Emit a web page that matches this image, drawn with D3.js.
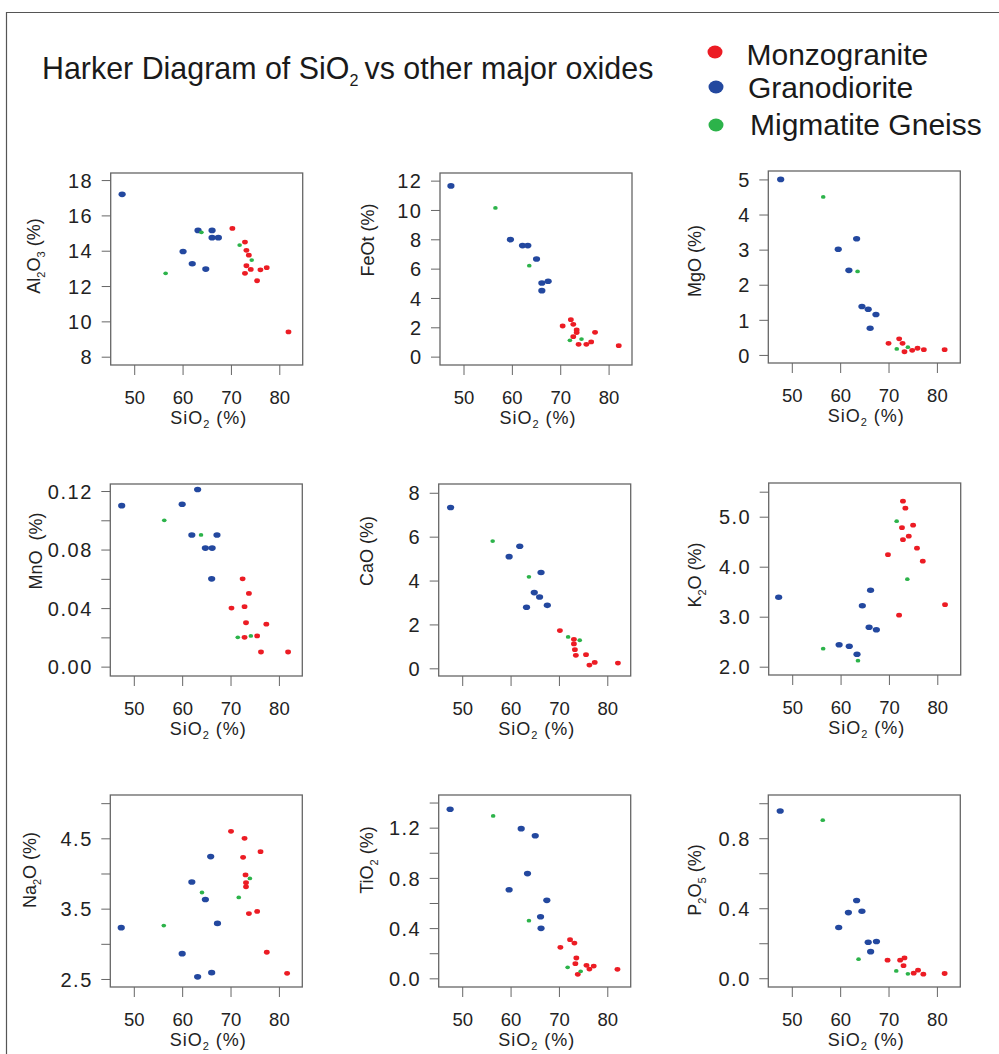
<!DOCTYPE html>
<html><head><meta charset="utf-8">
<script src="https://cdn.jsdelivr.net/npm/d3@7"></script>
<style>
html,body{margin:0;padding:0;background:#fff;}
svg{display:block;font-family:"Liberation Sans",Arial,Helvetica,sans-serif;}
</style>
</head><body>
<svg id="chart" width="999" height="1054"></svg>
<script>
// ---------- DATA (SiO2 %, oxide %) ----------
const groups = ["Monzogranite", "Granodiorite", "Migmatite Gneiss"];
const groupColors = ["#ec1c24", "#23489f", "#2cb34a"];
const xTicks = [50, 60, 70, 80];

const al2o3Monzo = [[70.3,15.26],[72.9,14.49],[73.2,14.02],[73.7,13.75],[73.2,13.15],[74.1,12.94],[72.9,12.72],[76.1,12.92],[77.4,13.04],[75.4,12.30],[81.9,9.40]];
const al2o3Grano = [[47.5,17.19],[60.1,13.96],[62.0,13.26],[63.2,15.15],[64.8,12.96],[66.1,15.15],[66.1,14.74],[67.4,14.74]];
const al2o3Migma = [[56.5,12.72],[63.9,15.04],[71.8,14.32],[74.3,13.47]];

const feotMonzo = [[70.5,2.09],[72.2,2.52],[72.7,2.20],[73.4,1.82],[73.4,1.64],[72.7,1.36],[73.8,0.84],[75.4,0.84],[76.4,1.00],[77.2,1.66],[82.1,0.75]];
const feotGrano = [[47.4,11.64],[59.7,7.98],[62.2,7.57],[63.3,7.57],[65.1,6.66],[66.2,5.02],[66.2,4.50],[67.5,5.14]];
const feotMigma = [[56.6,10.14],[63.6,6.20],[72.0,1.11],[74.4,1.20]];

const mgoMonzo = [[70.0,0.33],[72.2,0.46],[72.9,0.33],[73.3,0.09],[74.9,0.13],[76.0,0.19],[77.3,0.15],[81.6,0.15]];
const mgoGrano = [[47.7,5.00],[59.6,3.01],[61.8,2.41],[63.4,3.31],[64.5,1.38],[65.8,1.30],[67.4,1.15],[66.2,0.76]];
const mgoMigma = [[56.5,4.50],[63.6,2.38],[71.7,0.17],[74.0,0.22]];

const mnoMonzo = [[72.5,0.060],[73.8,0.050],[70.2,0.040],[72.9,0.041],[73.2,0.030],[77.4,0.029],[72.9,0.020],[75.5,0.021],[76.3,0.010],[81.9,0.010]];
const mnoGrano = [[47.5,0.110],[60.0,0.111],[63.2,0.121],[62.0,0.090],[67.2,0.090],[64.8,0.081],[66.2,0.081],[66.1,0.060]];
const mnoMigma = [[56.3,0.100],[63.9,0.090],[71.5,0.020],[74.2,0.021]];

const caoMonzo = [[70.2,1.72],[73.1,1.32],[73.1,1.11],[73.3,0.85],[73.5,0.59],[75.6,0.62],[76.3,0.15],[77.4,0.27],[82.2,0.24]];
const caoGrano = [[47.6,7.33],[59.7,5.09],[61.9,5.56],[66.3,4.37],[64.9,3.45],[66.0,3.25],[63.3,2.78],[67.6,2.87]];
const caoMigma = [[56.3,5.80],[63.8,4.17],[71.9,1.43],[74.3,1.28]];

const k2oMonzo = [[72.9,5.31],[73.4,5.17],[75.0,4.83],[72.7,4.78],[74.1,4.61],[72.9,4.54],[75.8,4.37],[69.8,4.24],[77.0,4.11],[72.1,3.03],[81.6,3.24]];
const k2oGrano = [[47.2,3.39],[66.2,3.53],[64.5,3.22],[65.9,2.79],[67.4,2.74],[59.7,2.44],[61.8,2.41],[63.4,2.25]];
const k2oMigma = [[56.4,2.36],[63.6,2.12],[71.6,4.91],[73.8,3.75]];

const na2oMonzo = [[70.1,4.60],[72.9,4.50],[76.2,4.31],[72.6,4.23],[73.1,3.98],[73.2,3.87],[73.2,3.81],[73.8,3.43],[75.5,3.46],[77.5,2.88],[81.7,2.58]];
const na2oGrano = [[47.4,3.23],[65.9,4.24],[62.0,3.88],[64.8,3.63],[67.3,3.29],[60.0,2.86],[63.2,2.53],[66.1,2.59]];
const na2oMigma = [[56.2,3.26],[64.1,3.73],[71.7,3.66],[74.0,3.93]];

const tio2Monzo = [[72.3,0.308],[73.2,0.281],[70.3,0.247],[73.6,0.162],[73.4,0.117],[75.7,0.104],[77.2,0.098],[76.3,0.074],[73.9,0.032],[82.1,0.072]];
const tio2Grano = [[47.5,1.346],[62.2,1.192],[65.1,1.136],[63.5,0.834],[59.7,0.706],[67.5,0.621],[66.2,0.491],[66.3,0.398]];
const tio2Migma = [[56.4,1.293],[63.8,0.459],[71.8,0.088],[74.5,0.056]];

const p2o5Monzo = [[69.8,0.103],[72.4,0.103],[73.3,0.116],[73.1,0.072],[76.1,0.046],[75.2,0.029],[77.2,0.023],[81.6,0.027]];
const p2o5Grano = [[47.6,0.956],[63.4,0.444],[61.7,0.375],[64.5,0.383],[59.7,0.290],[65.8,0.206],[67.5,0.210],[66.3,0.152]];
const p2o5Migma = [[56.4,0.903],[63.8,0.109],[71.6,0.042],[74.0,0.025]];

// y tick values (labelled / unlabelled)
const al2o3Ticks = [8,10,12,14,16,18];
const feotTicks = [0,2,4,6,8,10,12];
const mgoTicks = [0,1,2,3,4,5];
const mnoTicks = [0,0.04,0.08,0.12], mnoMinor = [0.02,0.06,0.10];
const caoTicks = [0,2,4,6,8];
const k2oTicks = [2,3,4,5], k2oMinor = [5.5];
const na2oTicks = [2.5,3.5,4.5], na2oMinor = [3,4,5];
const tio2Ticks = [0,0.4,0.8,1.2], tio2Minor = [0.2,0.6,1.0,1.4];
const p2o5Ticks = [0,0.4,0.8], p2o5Minor = [0.2,0.6,1.0];

// ---------- LAYOUT ----------
const W = 192, H = 192;
const xDomain = [45.14, 84.84];
const panels = [
  {data:[al2o3Monzo,al2o3Grano,al2o3Migma], yDomain:[7.53,18.40], ticks:al2o3Ticks, minor:[], fmt:d3.format("d"),
   label:[["Al",0],["2",1],["O",0],["3",1],[" (%)",0]], lx:33.8, ly:256, bx:110.7, by:173},
  {data:[feotMonzo,feotGrano,feotMigma], yDomain:[-0.57,12.52], ticks:feotTicks, minor:[], fmt:d3.format("d"),
   label:[["FeOt (%)",0]], lx:368, ly:240, bx:440, by:173},
  {data:[mgoMonzo,mgoGrano,mgoMigma], yDomain:[-0.23,5.24], ticks:mgoTicks, minor:[], fmt:d3.format("d"),
   label:[["MgO (%)",0]], lx:695, ly:261, bx:768.3, by:171},
  {data:[mnoMonzo,mnoGrano,mnoMigma], yDomain:[-0.0064,0.1248], ticks:mnoTicks, minor:mnoMinor, fmt:d3.format(".2f"),
   label:[["MnO\u00a0\u00a0(%)",0]], lx:35.7, ly:551, bx:110.3, by:484},
  {data:[caoMonzo,caoGrano,caoMigma], yDomain:[-0.35,8.40], ticks:caoTicks, minor:[], fmt:d3.format("d"),
   label:[["CaO (%)",0]], lx:367, ly:551, bx:438.7, by:484},
  {data:[k2oMonzo,k2oGrano,k2oMigma], yDomain:[1.834,5.674], ticks:k2oTicks, minor:k2oMinor, fmt:d3.format(".1f"),
   label:[["K",0],["2",1],["O (%)",0]], lx:695, ly:575, bx:768.7, by:483},
  {data:[na2oMonzo,na2oGrano,na2oMigma], yDomain:[2.386,5.116], ticks:na2oTicks, minor:na2oMinor, fmt:d3.format(".1f"),
   label:[["Na",0],["2",1],["O (%)",0]], lx:30, ly:870, bx:110.3, by:795},
  {data:[tio2Monzo,tio2Grano,tio2Migma], yDomain:[-0.069,1.46], ticks:tio2Ticks, minor:tio2Minor, fmt:d3.format(".1f"),
   label:[["TiO",0],["2",1],[" (%)",0]], lx:367, ly:860, bx:438.7, by:795},
  {data:[p2o5Monzo,p2o5Grano,p2o5Migma], yDomain:[-0.05,1.047], ticks:p2o5Ticks, minor:p2o5Minor, fmt:d3.format(".1f"),
   label:[["P",0],["2",1],["O",0],["5",1],[" (%)",0]], lx:695, ly:880, bx:768.3, by:795}
];
const dotR = [[2.9,2.4],[3.6,2.8],[2.3,1.9]];
const drawOrder = [1,0,2];
const textCol = "#222";
const axisCol = "#666";

const svg = d3.select("#chart");
svg.append("rect").attr("width",999).attr("height",1054).attr("fill","#fff");
// outer frame
svg.append("path").attr("d","M6.5,1054 V12.5 H999").attr("fill","none").attr("stroke","#555").attr("stroke-width",1.2);

function addSubText(sel, parts, subSize, shift){
  let sub = false;
  parts.forEach(([t,isSub])=>{
    const ts = sel.append("tspan").text(t);
    if(isSub){ ts.attr("font-size",subSize); if(!sub){ ts.attr("dy",shift); sub = true; } }
    else if(sub){ ts.attr("dy",-shift); sub = false; }
  });
}

panels.forEach(p=>{
  const g = svg.append("g").attr("transform",`translate(${p.bx},${p.by})`);
  const x = d3.scaleLinear().domain(xDomain).range([0,W]);
  const y = d3.scaleLinear().domain(p.yDomain).range([H,0]);

  // y axis (labelled ticks)
  const ya = g.append("g").call(d3.axisLeft(y).tickValues(p.ticks).tickFormat(p.fmt).tickSize(9).tickPadding(8.5));
  ya.select(".domain").remove();
  ya.selectAll("line").attr("stroke",axisCol);
  ya.selectAll("text").attr("font-size",20).attr("letter-spacing",1.5).attr("fill",textCol)
    .attr("font-family",null).attr("dy","0.36em");
  if(p.minor.length){
    const ym = g.append("g").call(d3.axisLeft(y).tickValues(p.minor).tickFormat("").tickSize(9));
    ym.select(".domain").remove();
    ym.selectAll("line").attr("stroke",axisCol);
  }
  // x axis
  const xa = g.append("g").attr("transform",`translate(0,${H})`)
    .call(d3.axisBottom(x).tickValues(xTicks).tickFormat(d3.format("d")).tickSize(10).tickPadding(15.5));
  xa.select(".domain").remove();
  xa.selectAll("line").attr("stroke",axisCol);
  xa.selectAll("text").attr("font-size",18.5).attr("fill",textCol).attr("font-family",null);

  // box
  g.append("rect").attr("width",W).attr("height",H).attr("fill","none").attr("stroke",axisCol).attr("stroke-width",1.3);

  // points
  drawOrder.forEach(gi=>{
    g.selectAll(null).data(p.data[gi]).enter().append("ellipse")
      .attr("cx",d=>x(d[0])).attr("cy",d=>y(d[1]))
      .attr("rx",dotR[gi][0]).attr("ry",dotR[gi][1])
      .attr("fill",groupColors[gi]);
  });

  // x label
  const xl = svg.append("text").attr("x",p.bx+W/2+2).attr("y",p.by+H+59)
    .attr("text-anchor","middle").attr("font-size",18).attr("letter-spacing",1).attr("fill",textCol);
  addSubText(xl, [["SiO",0],["2",1],[" (%)",0]], 11, 4);

  // y label
  const yl = svg.append("text").attr("transform",`translate(${p.lx},${p.ly}) rotate(-90)`)
    .attr("text-anchor","middle").attr("dy","0.35em").attr("font-size",18).attr("fill",textCol);
  addSubText(yl, p.label, 11, 5);
});

// title
const title = svg.append("text").attr("transform","translate(42,79) scale(0.95,1)")
  .attr("font-size",32).attr("fill","#1a1a1a");
addSubText(title, [["Harker Diagram of SiO",0],["2",1],["\u2009vs other major oxides",0]], 17, 7);

// legend
const legendDots = [[715,52],[716,87],[716,125]];
const legendText = [[746.5,65],[748,97.5],[750,134.5]];
groups.forEach((name,i)=>{
  svg.append("ellipse").attr("cx",legendDots[i][0]).attr("cy",legendDots[i][1]).attr("rx",7.5).attr("ry",6.5).attr("fill",groupColors[i]);
  svg.append("text").attr("x",legendText[i][0]).attr("y",legendText[i][1]).attr("font-size",30).attr("fill","#1a1a1a").text(name);
});
</script>
</body></html>
